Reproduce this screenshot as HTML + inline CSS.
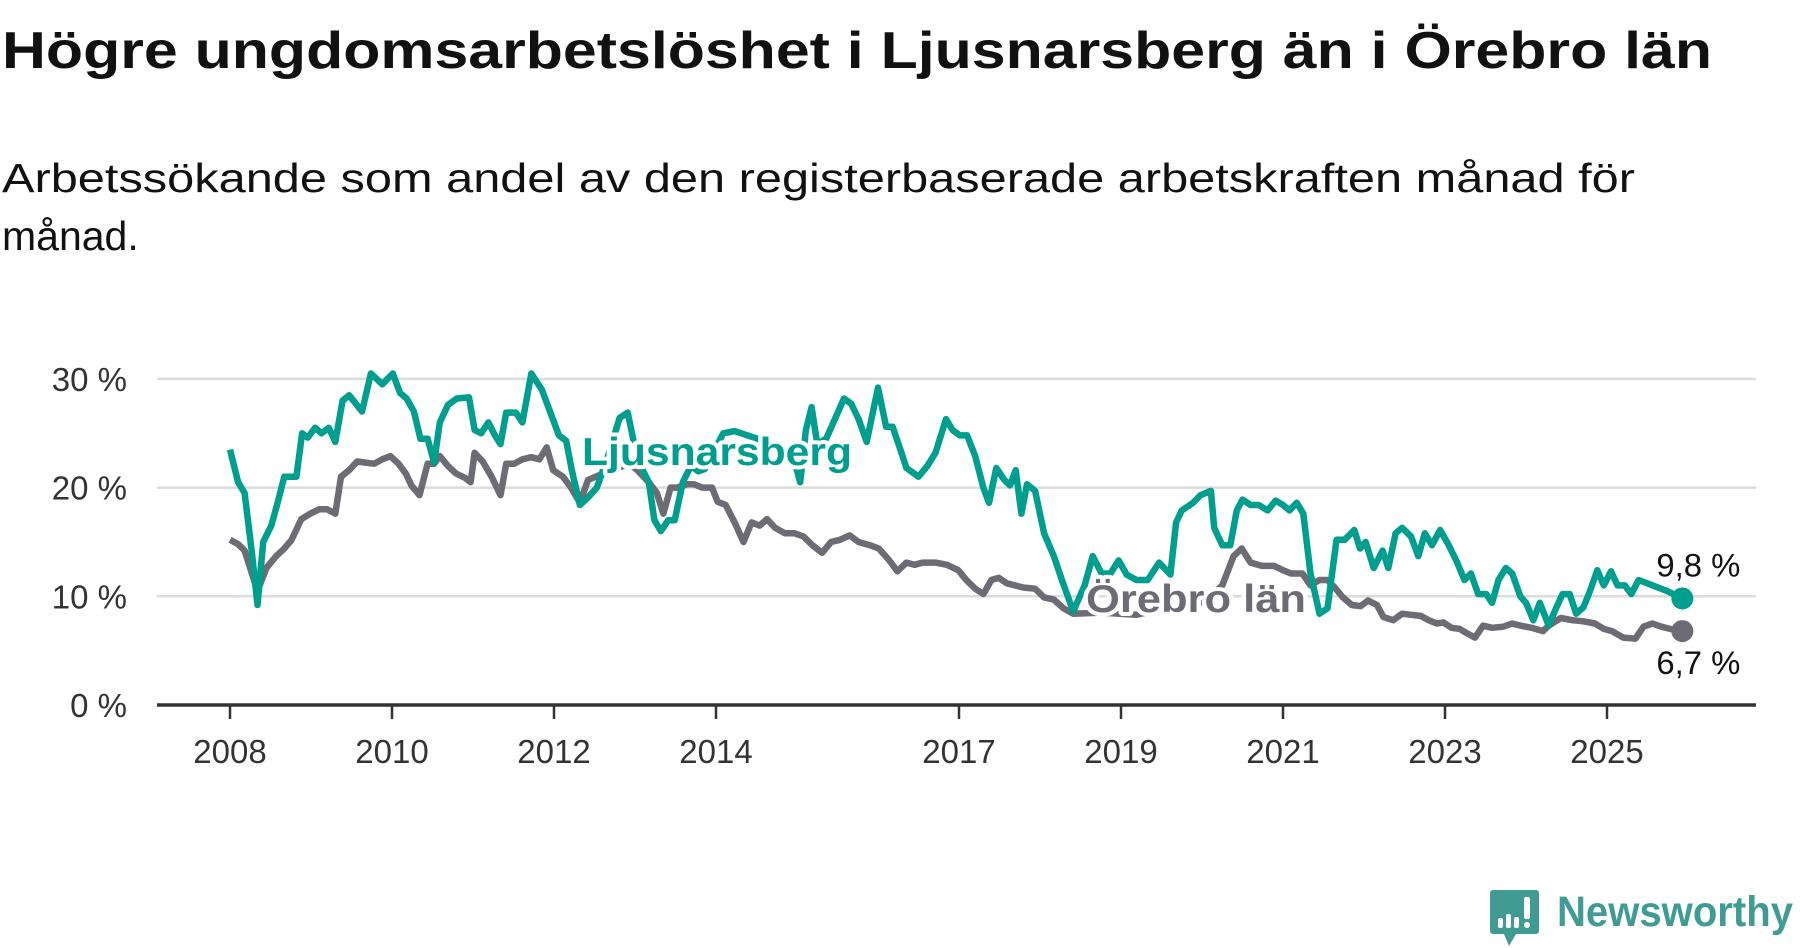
<!DOCTYPE html>
<html><head><meta charset="utf-8"><style>
html,body{margin:0;padding:0;background:#fff;}
svg{display:block;font-family:"Liberation Sans",sans-serif;}
</style></head><body>
<svg id="chart" width="1800" height="948" viewBox="0 0 1800 948">
<text x="2" y="68" font-size="52" font-weight="bold" fill="#111" textLength="1710" lengthAdjust="spacingAndGlyphs">Högre ungdomsarbetslöshet i Ljusnarsberg än i Örebro län</text>
<text x="2" y="192" font-size="41" fill="#111" textLength="1633" lengthAdjust="spacingAndGlyphs">Arbetssökande som andel av den registerbaserade arbetskraften månad för</text>
<text x="2" y="250" font-size="41" fill="#111">månad.</text>
<g id="grid"></g>
<g id="yticks"></g>
<g id="xaxis"></g>
<g id="series"></g>
<g id="labels"></g>
<g>
<path d="M1493 890 h43 a3 3 0 0 1 3 3 v38 a3 3 0 0 1 -3 3 h-20 l-7 12 l-5 -12 h-11 a3 3 0 0 1 -3 -3 v-38 a3 3 0 0 1 3 -3z" fill="#3f9b93"/>
<rect x="1498" y="918" width="5" height="10" rx="2" fill="#fff"/>
<rect x="1506" y="914" width="5" height="14" rx="2" fill="#fff"/>
<rect x="1514" y="917" width="5" height="11" rx="2" fill="#fff"/>
<rect x="1524" y="897" width="6" height="22" rx="2" fill="#fff"/>
<circle cx="1527" cy="925" r="3" fill="#fff"/>
<text x="1557" y="926" font-size="43" font-weight="bold" fill="#3f9b93" textLength="236" lengthAdjust="spacingAndGlyphs">Newsworthy</text>
</g>
</svg>
<script>
const yTicks = [0, 10, 20, 30];
const yTickLabels = ["0 %", "10 %", "20 %", "30 %"];
const xTicks = [2008, 2010, 2012, 2014, 2017, 2019, 2021, 2023, 2025];
const ljusT = [0,.10,.18,.27,.34,.41,.51,.58,.67,.82,.89,.96,1.05,1.13,1.22,1.30,1.39,1.47,1.63,1.74,1.88,2.01,2.10,2.18,2.27,2.35,2.44,2.52,2.59,2.69,2.80,2.95,3.02,3.10,3.19,3.27,3.34,3.41,3.53,3.61,3.72,3.85,4.06,4.15,4.22,4.32,4.42,4.53,4.67,4.81,4.91,5.03,5.17,5.24,5.32,5.41,5.49,5.59,5.69,5.78,5.86,6.09,6.23,6.51,6.94,7.04,7.11,7.18,7.25,7.36,7.58,7.67,7.76,7.86,8.00,8.10,8.18,8.28,8.35,8.50,8.61,8.71,8.84,8.92,9.01,9.10,9.20,9.30,9.37,9.46,9.56,9.63,9.70,9.77,9.84,9.94,10.05,10.17,10.27,10.41,10.55,10.65,10.76,10.87,10.97,11.07,11.19,11.33,11.47,11.61,11.68,11.75,11.89,11.98,12.11,12.15,12.25,12.35,12.43,12.50,12.60,12.70,12.81,12.91,13.00,13.08,13.17,13.25,13.34,13.45,13.55,13.66,13.76,13.88,13.95,14.02,14.12,14.23,14.30,14.39,14.47,14.58,14.67,14.75,14.84,14.94,15.04,15.15,15.24,15.32,15.41,15.51,15.58,15.66,15.75,15.83,15.93,16.00,16.09,16.17,16.28,16.37,16.45,16.54,16.62,16.71,16.79,16.88,16.96,17.05,17.13,17.22,17.30,17.39,17.56,17.74,17.93];
const ljusV = [23.5,20.5,19.5,14,9.2,15,16.5,18.4,21,21,25,24.6,25.5,25,25.5,24.2,28,28.5,27,30.5,29.5,30.5,28.7,28.2,27,24.5,24.5,22.3,26,27.6,28.2,28.3,25.3,25,26,24.8,24,26.9,26.9,26,30.5,29,24.8,24.3,21.6,18.4,19.1,20,23,26.4,26.9,22.6,20.5,17,16,17,17,20.5,22,21.5,21.7,25,25.2,24.5,23.2,20.5,25.3,27.4,24,24.5,28.2,27.7,26.3,24.2,29.2,25.6,25.6,23.4,21.8,21,22,23.2,26.3,25.3,24.8,24.8,22.9,20,18.6,21.8,20.7,20.2,21.6,17.6,20.3,19.7,15.8,13.7,11.5,8.6,11,13.7,12.1,12.1,13.3,12,11.5,11.5,13.1,12,16.8,17.9,18.6,19.3,19.7,16.3,14.7,14.7,17.9,18.9,18.4,18.4,17.9,18.8,18.4,17.9,18.6,17.6,12.1,8.4,8.9,15.2,15.2,16.1,14.4,15,12.6,14.2,12.6,15.8,16.3,15.5,13.7,15.8,14.7,16.1,14.8,13.1,11.5,12.1,10.2,10.2,9.4,11.5,12.6,12.1,10,9.4,7.8,9.4,7.3,8.9,10.2,10.2,8.4,9,10.5,12.4,11,12.3,11,11,10.2,11.5,11,10.5,9.8];
const orebroT = [0,.10,.18,.27,.34,.45,.57,.67,.76,.88,.99,1.10,1.20,1.30,1.37,1.47,1.57,1.67,1.78,1.88,1.98,2.08,2.17,2.24,2.34,2.44,2.52,2.59,2.69,2.79,2.90,2.97,3.02,3.12,3.23,3.34,3.41,3.51,3.61,3.72,3.82,3.91,3.99,4.11,4.21,4.32,4.42,4.67,4.93,5.03,5.17,5.27,5.35,5.44,5.52,5.64,5.73,5.83,5.95,6.02,6.12,6.23,6.34,6.44,6.54,6.63,6.73,6.85,6.97,7.08,7.19,7.31,7.42,7.53,7.65,7.76,7.90,8.01,8.14,8.24,8.35,8.45,8.55,8.71,8.85,8.99,9.09,9.20,9.30,9.40,9.49,9.59,9.69,9.80,9.94,10.05,10.17,10.29,10.41,10.76,11.19,11.61,12.04,12.25,12.39,12.49,12.60,12.74,12.89,13.00,13.10,13.24,13.34,13.45,13.55,13.64,13.74,13.85,13.96,14.05,14.16,14.24,14.36,14.47,14.58,14.70,14.80,14.90,14.98,15.08,15.18,15.27,15.37,15.47,15.58,15.72,15.83,15.93,16.07,16.21,16.28,16.43,16.57,16.71,16.85,16.96,17.06,17.20,17.35,17.45,17.56,17.67,17.78,17.93];
const orebroV = [15.2,14.8,14.2,12.1,10.5,12.6,13.7,14.4,15.2,17.1,17.6,18,18,17.6,21,21.6,22.4,22.3,22.2,22.6,22.9,22.2,21.3,20.2,19.3,22.2,22.2,22.9,22,21.3,20.9,20.5,23.2,22.4,21,19.3,22.2,22.2,22.6,22.8,22.6,23.7,21.6,21,20,18.6,20.7,21.5,22.2,21.6,20.5,19.5,17.6,20,20,20.3,20.3,20,20,18.7,18.4,16.8,15,16.8,16.5,17.1,16.3,15.8,15.8,15.5,14.7,14,15,15.2,15.6,15,14.7,14.4,13.3,12.3,13.1,12.9,13.1,13.1,12.9,12.4,11.5,10.7,10.2,11.5,11.7,11.2,11,10.8,10.7,9.9,9.7,8.9,8.4,8.5,8.3,9,9.5,11,13.7,14.4,13.1,12.8,12.8,12.4,12.1,12.1,11,11.5,11.5,10.8,9.9,9.2,9.1,9.6,9.2,8.1,7.8,8.4,8.3,8.2,7.8,7.5,7.6,7.1,7,6.6,6.2,7.3,7.1,7.2,7.5,7.3,7.1,6.8,7.3,8,7.8,7.7,7.5,7,6.8,6.2,6.1,7.2,7.5,7.2,7,6.8];
const lastLjusLabel = "9,8 %";
const lastOrebroLabel = "6,7 %";

const NS = "http://www.w3.org/2000/svg";
const X0 = 230, PX_PER_YEAR = 81.0, Y0 = 705, PX_PER_PCT = 10.87;
function xScale(yearsSince2008){ return X0 + PX_PER_YEAR * yearsSince2008; }
function xYear(year){ return xScale(year - 2008); }
function yScale(v){ return Y0 - PX_PER_PCT * v; }
function mk(tag, attrs, parent){
  const e = document.createElementNS(NS, tag);
  for (const k in attrs) e.setAttribute(k, attrs[k]);
  parent.appendChild(e); return e;
}
const grid = document.getElementById('grid');
const yt = document.getElementById('yticks');
yTicks.forEach((t, i) => {
  if (t > 0) {
    const l = mk('line', {x1:157, x2:1756, y1:yScale(t), y2:yScale(t), stroke:'#dcdcdc', 'stroke-width':2.5}, grid);
    
    
  }
  const tx = mk('text', {x:127, y:yScale(t)+12, 'text-anchor':'end', 'font-size':33, fill:'#333'}, yt);
  tx.textContent = yTickLabels[i];
  
  
});
const xa = document.getElementById('xaxis');
xTicks.forEach(yr => {
  const tk = mk('line', {x1:xYear(yr), x2:xYear(yr), y1:Y0, y2:719, stroke:'#333', 'stroke-width':2.5}, xa);
  
  
  const tx = mk('text', {x:xYear(yr), y:763, 'text-anchor':'middle', 'font-size':33, fill:'#333'}, xa);
  tx.textContent = yr;
  
  
});
const axis = mk('line', {x1:157, x2:1756, y1:Y0, y2:Y0, stroke:'#333', 'stroke-width':3.5}, xa);



const ser = document.getElementById('series');
function drawLine(ts, vs, color, name){
  const d = ts.map((t,i)=>(i?'L':'M')+xScale(t).toFixed(1)+' '+yScale(vs[i]).toFixed(1)).join(' ');
  const p = mk('path', {d:d, fill:'none', stroke:color, 'stroke-width':6.5, 'stroke-linejoin':'round'}, ser);
  
  
  const n = ts.length - 1;
  const c = mk('circle', {cx:xScale(ts[n]), cy:yScale(vs[n]), r:11, fill:color}, ser);
  
  
}
drawLine(orebroT, orebroV, '#6d6b73', 'orebro');
drawLine(ljusT, ljusV, '#009e8f', 'ljusnarsberg');

const lab = document.getElementById('labels');
function label(txt, x, y, color, weight, size, name, len){
  const a = {x:x, y:y, fill:color, 'font-size':size, 'font-weight':weight, stroke:'#fff', 'stroke-width':8, 'paint-order':'stroke', 'stroke-linejoin':'round'};
  if (len) { a.textLength = len; a.lengthAdjust = 'spacingAndGlyphs'; }
  const t = mk('text', a, lab);
  t.textContent = txt;
  
  
}
label('Ljusnarsberg', 582, 465, '#009e8f', 'bold', 39, 'ljusnarsberg-label', 270);
label('Örebro län', 1086, 612, '#6d6b73', 'bold', 39, 'orebro-label', 220);
const nL = ljusT.length - 1, nO = orebroT.length - 1;
label(lastLjusLabel, xScale(ljusT[nL]) - 26, yScale(ljusV[nL]) - 22, '#111', 'normal', 32, 'ljusnarsberg-last-value', 84);
label(lastOrebroLabel, xScale(orebroT[nO]) - 26, yScale(orebroV[nO]) + 43, '#111', 'normal', 32, 'orebro-last-value', 84);
</script>
</body></html>
